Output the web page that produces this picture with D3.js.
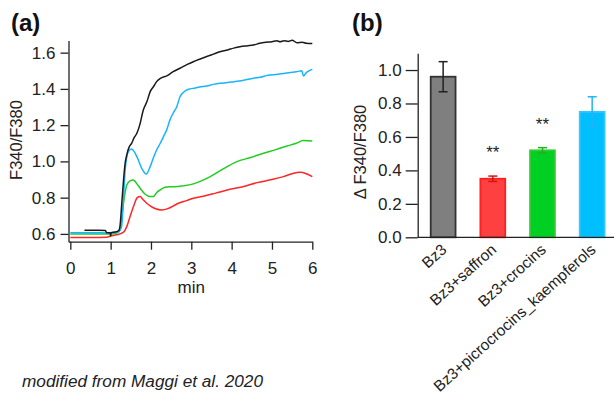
<!DOCTYPE html>
<html>
<head>
<meta charset="utf-8">
<script src="https://cdn.jsdelivr.net/npm/d3@7"></script>
<style>
  body { margin: 0; background: #fff; }
  svg { display: block; font-family: 'Liberation Sans', Arial, sans-serif; }
</style>
</head>
<body>
<div id="chart"></div>
<script>
// ---- panel (a): ratio traces (time in min, F340/F380) ----
const blackT = [0.35, 0.7, 0.87, 0.9, 0.99, 1.0, 1.01, 1.1, 1.2, 1.23, 1.28, 1.32, 1.36, 1.40, 1.46, 1.52, 1.58, 1.65, 1.72, 1.81, 1.9, 1.98, 2.06, 2.14, 2.25, 2.39, 2.55, 2.72, 2.9, 3.05, 3.22, 3.4, 3.55, 3.71, 3.9, 4.05, 4.21, 4.4, 4.54, 4.7, 4.85, 5.0, 5.12, 5.2, 5.3, 5.4, 5.5, 5.62, 5.75, 5.85, 6.0];
const blackV = [0.620, 0.620, 0.619, 0.607, 0.607, 0.588, 0.607, 0.610, 0.618, 0.64, 0.78, 0.898, 0.99, 1.036, 1.08, 1.10, 1.13, 1.155, 1.20, 1.284, 1.33, 1.385, 1.412, 1.44, 1.46, 1.472, 1.495, 1.514, 1.535, 1.55, 1.565, 1.58, 1.592, 1.605, 1.615, 1.625, 1.633, 1.638, 1.642, 1.652, 1.657, 1.66, 1.666, 1.66, 1.666, 1.662, 1.668, 1.655, 1.658, 1.652, 1.650];

const blueT = [0, 0.5, 1.0, 1.2, 1.27, 1.32, 1.36, 1.44, 1.52, 1.58, 1.65, 1.77, 1.88, 1.98, 2.06, 2.14, 2.23, 2.31, 2.39, 2.47, 2.56, 2.64, 2.72, 2.8, 2.93, 3.1, 3.2, 3.38, 3.55, 3.71, 3.9, 4.05, 4.3, 4.54, 4.71, 4.9, 5.1, 5.29, 5.45, 5.6, 5.74, 5.78, 5.85, 5.92, 6.0];
const blueV = [0.607, 0.607, 0.605, 0.612, 0.64, 0.80, 0.953, 1.054, 1.068, 1.055, 1.026, 0.962, 0.93, 0.971, 1.02, 1.063, 1.10, 1.137, 1.174, 1.229, 1.27, 1.302, 1.357, 1.38, 1.398, 1.405, 1.41, 1.416, 1.425, 1.431, 1.435, 1.44, 1.448, 1.459, 1.464, 1.475, 1.48, 1.485, 1.49, 1.494, 1.50, 1.471, 1.49, 1.50, 1.508];

const greenT = [0, 0.5, 1.0, 1.15, 1.23, 1.33, 1.40, 1.48, 1.56, 1.64, 1.73, 1.85, 1.98, 2.06, 2.15, 2.23, 2.35, 2.47, 2.6, 2.8, 3.05, 3.22, 3.47, 3.8, 4.13, 4.45, 4.79, 5.1, 5.37, 5.6, 5.78, 6.0];
const greenV = [0.600, 0.600, 0.600, 0.605, 0.622, 0.788, 0.87, 0.893, 0.898, 0.88, 0.852, 0.82, 0.806, 0.806, 0.83, 0.843, 0.858, 0.86, 0.86, 0.865, 0.876, 0.89, 0.916, 0.96, 0.999, 1.02, 1.045, 1.065, 1.085, 1.10, 1.115, 1.113];

const redT = [0, 0.5, 0.9, 1.0, 1.15, 1.32, 1.4, 1.48, 1.58, 1.66, 1.73, 1.8, 1.9, 1.98, 2.1, 2.27, 2.4, 2.56, 2.64, 2.9, 3.05, 3.3, 3.6, 3.96, 4.3, 4.63, 5.0, 5.29, 5.5, 5.7, 5.85, 6.0];
const redV = [0.580, 0.580, 0.582, 0.588, 0.595, 0.61, 0.64, 0.695, 0.76, 0.80, 0.806, 0.79, 0.768, 0.755, 0.74, 0.732, 0.738, 0.755, 0.765, 0.785, 0.797, 0.808, 0.825, 0.846, 0.862, 0.883, 0.90, 0.916, 0.932, 0.94, 0.932, 0.916];

const ratioTicks = [0.6, 0.8, 1.0, 1.2, 1.4, 1.6];
const minTicks = [0, 1, 2, 3, 4, 5, 6];

// ---- panel (b): delta ratio per treatment ----
const groups = ['Bz3', 'Bz3+saffron', 'Bz3+crocins', 'Bz3+picrocrocins_kaempferols'];
const deltaMean = [0.96, 0.35, 0.52, 0.75];
const deltaErr = [0.09, 0.016, 0.016, 0.09];
const signif = ['', '**', '**', ''];
const deltaTicks = [0.0, 0.2, 0.4, 0.6, 0.8, 1.0];

const W = 614, H = 397;
const svg = d3.select('#chart').append('svg')
  .attr('width', W).attr('height', H);
svg.append('rect').attr('width', W).attr('height', H).attr('fill', '#fff');

const fmt = d3.format('.1f');

function styleAxis(g, size) {
  g.select('.domain').attr('stroke', '#222').attr('stroke-width', 1.3);
  g.selectAll('.tick line').attr('stroke', '#222').attr('stroke-width', 1.3);
  g.selectAll('.tick text')
    .attr('fill', '#222')
    .attr('font-size', size)
    .attr('font-family', "'Liberation Sans', Arial, sans-serif");
}

// ===== panel (a) =====
const xA = d3.scaleLinear().domain([-0.045, 6]).range([68.5, 312.3]);
const yA = d3.scaleLinear().domain([0.557, 1.667]).range([241.7, 40.5]);

const axA = svg.append('g').attr('transform', 'translate(68.5,0)')
  .call(d3.axisLeft(yA).tickValues(ratioTicks).tickFormat(fmt)
    .tickSize(8).tickSizeOuter(0).tickPadding(5));
styleAxis(axA, 17);

const axB = svg.append('g').attr('transform', 'translate(0,241.7)')
  .call(d3.axisBottom(xA).tickValues(minTicks).tickFormat(d3.format('d'))
    .tickSize(8).tickSizeOuter(0).tickPadding(12.5));
styleAxis(axB, 17);

const traces = [
  { t: redT, v: redV, color: '#ff2626' },
  { t: greenT, v: greenV, color: '#22cc22' },
  { t: blueT, v: blueV, color: '#18b4ff' },
  { t: blackT, v: blackV, color: '#1a1a1a' }
];

const line = d3.line()
  .x(d => xA(d[0]))
  .y(d => yA(d[1]))
  .curve(d3.curveMonotoneX);

svg.append('g').selectAll('path')
  .data(traces)
  .join('path')
  .attr('d', d => line(d.t.map((t, i) => [t, d.v[i]])))
  .attr('fill', 'none')
  .attr('stroke', d => d.color)
  .attr('stroke-width', 1.5)
  .attr('stroke-linejoin', 'round');

svg.append('text')
  .attr('x', xA(3)).attr('y', 293)
  .attr('text-anchor', 'middle')
  .attr('font-size', 17).attr('fill', '#222')
  .text('min');

svg.append('text')
  .attr('transform', 'translate(22,140) rotate(-90)')
  .attr('text-anchor', 'middle')
  .attr('font-size', 16.5).attr('fill', '#222')
  .text('F340/F380');

svg.append('text')
  .attr('x', 11).attr('y', 31)
  .attr('font-size', 24).attr('font-weight', 'bold').attr('fill', '#111')
  .text('(a)');

// ===== panel (b) =====
const xB = d3.scaleBand().domain(groups).range([418.3, 617])
  .paddingInner(0.5).paddingOuter(0.25);
const yB = d3.scaleLinear().domain([0, 1.1]).range([237.3, 53.3]);

const barStyle = [
  { fill: '#7f7f7f', stroke: '#333333', err: '#222222' },
  { fill: '#ff4040', stroke: '#ff1f1f', err: '#d01515' },
  { fill: '#00d024', stroke: '#33cc33', err: '#20b020' },
  { fill: '#00bfff', stroke: '#33c6ff', err: '#22b4f5' }
];

const rows = groups.map((g, i) => ({
  g, mean: deltaMean[i], err: deltaErr[i], mark: signif[i], s: barStyle[i]
}));

const bars = svg.append('g').selectAll('g.bar')
  .data(rows)
  .join('g').classed('bar', true);

bars.append('rect')
  .attr('x', d => xB(d.g))
  .attr('y', d => yB(d.mean))
  .attr('width', xB.bandwidth())
  .attr('height', d => yB(0) - yB(d.mean))
  .attr('fill', d => d.s.fill)
  .attr('stroke', d => d.s.stroke)
  .attr('stroke-width', 1.8);

const cx = d => xB(d.g) + xB.bandwidth() / 2;
bars.append('line')
  .attr('x1', cx).attr('x2', cx)
  .attr('y1', d => yB(d.mean - d.err)).attr('y2', d => yB(d.mean + d.err))
  .attr('stroke', d => d.s.err).attr('stroke-width', 1.5);
[-1, 1].forEach(side => {
  bars.append('line')
    .attr('x1', d => cx(d) - 4.5).attr('x2', d => cx(d) + 4.5)
    .attr('y1', d => yB(d.mean + side * d.err)).attr('y2', d => yB(d.mean + side * d.err))
    .attr('stroke', d => d.s.err).attr('stroke-width', 1.5);
});

bars.append('text')
  .attr('x', cx)
  .attr('y', d => yB(d.mean + d.err) - 18)
  .attr('text-anchor', 'middle')
  .attr('font-size', 17).attr('fill', '#222')
  .text(d => d.mark);

const ayB = svg.append('g').attr('transform', 'translate(417.7,0)')
  .call(d3.axisLeft(yB).tickValues(deltaTicks).tickFormat(fmt)
    .tickSize(12).tickSizeOuter(0).tickPadding(4));
styleAxis(ayB, 17);

svg.append('line')
  .attr('x1', 417.7).attr('x2', W)
  .attr('y1', yB(0)).attr('y2', yB(0))
  .attr('stroke', '#222').attr('stroke-width', 1.3);

svg.append('g').selectAll('text')
  .data(groups)
  .join('text')
  .attr('transform', d => `translate(${xB(d) + xB.bandwidth() / 2 + 4.5},251) rotate(-42)`)
  .attr('text-anchor', 'end')
  .attr('font-size', 15.5).attr('fill', '#222')
  .text(d => d);

svg.append('text')
  .attr('transform', 'translate(366,152) rotate(-90)')
  .attr('text-anchor', 'middle')
  .attr('font-size', 16.5).attr('fill', '#222')
  .text('\u0394 F340/F380');

svg.append('text')
  .attr('x', 352).attr('y', 31)
  .attr('font-size', 24).attr('font-weight', 'bold').attr('fill', '#111')
  .text('(b)');

// credit line
svg.append('text')
  .attr('x', 22).attr('y', 386.5)
  .attr('font-size', 16).attr('font-style', 'italic').attr('fill', '#222')
  .attr('textLength', 241).attr('lengthAdjust', 'spacingAndGlyphs')
  .text('modified from Maggi et al. 2020');
</script>
</body>
</html>
